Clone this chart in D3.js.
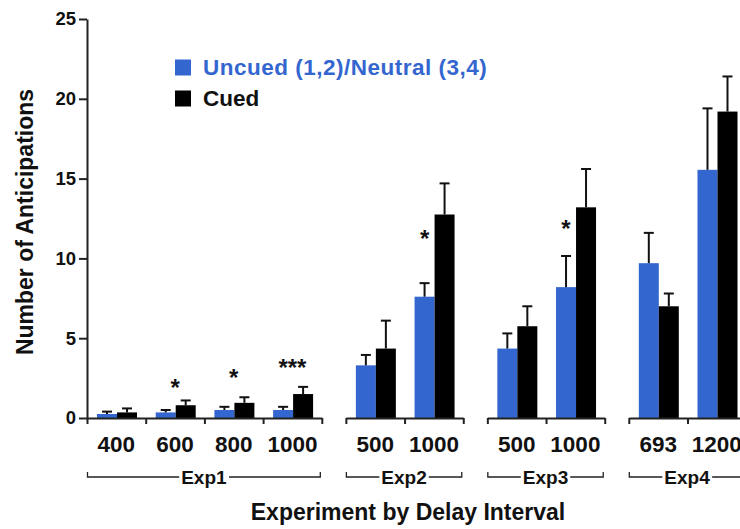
<!DOCTYPE html>
<html><head><meta charset="utf-8">
<script src="https://cdn.jsdelivr.net/npm/d3@7"></script>
<style>
html,body{margin:0;padding:0;background:#fff;overflow:hidden}
svg{display:block;font-family:"Liberation Sans",Arial,Helvetica,sans-serif;font-weight:bold}
</style></head><body>
<svg id="chart" width="740" height="529"></svg>
<script>
// ---- data ----
const groups = ["Exp1","Exp2","Exp3","Exp4"];
const categoryGroup = ["Exp1","Exp1","Exp1","Exp1","Exp2","Exp2","Exp3","Exp3","Exp4","Exp4"];
const categoryLabels = ["400","600","800","1000","500","1000","500","1000","693","1200"];
const uncuedMeans  = [0.25,0.35,0.5,0.5,3.3,7.6,4.35,8.2,9.7,15.55];
const uncuedErrors = [0.15,0.15,0.2,0.2,0.65,0.85,0.95,1.95,1.9,3.85];
const cuedMeans    = [0.35,0.8,0.95,1.5,4.35,12.75,5.75,13.2,7.0,19.2];
const cuedErrors   = [0.25,0.3,0.35,0.45,1.75,1.95,1.25,2.4,0.8,2.2];
const yTicks = [0,5,10,15,20,25];
const sigCategory = [1,2,3,5,7];
const sigLabel = ["*","*","***","*","*"];
const sigLevel = [2.27,2.9,3.5,11.57,12.2];
const sigAnchor = ["pair","pair","pair","uncued","uncued"];
const seriesNames = ["Uncued (1,2)/Neutral (3,4)","Cued"];
const seriesKeys = ["uncued","cued"];

// ---- style ----
const BLUE = "#3466cf";
const INK = "#111";
const svg = d3.select("#chart");

// slot layout: one slot per category, gap between experiment groups
const GAP = 0.41;
const slotStart = categoryGroup.map((g,i)=> i + groups.indexOf(g)*GAP);
const groupRange = groups.map(g=>{
  const idx = categoryGroup.map((c,i)=>c===g?i:-1).filter(i=>i>=0);
  return {g, s: slotStart[idx[0]], e: slotStart[idx[idx.length-1]]+1, n: idx.length};
});

const x = d3.scaleLinear().domain([0,1]).range([87, 87+58.7]);
const inner = d3.scaleBand().domain(seriesKeys).range([10,50]);
const y = d3.scaleLinear().domain([0,25]).range([418,19]);

const data = categoryLabels.map((lab,i)=>({
  i, lab,
  vals: [
    {k:"uncued", m: uncuedMeans[i], e: uncuedErrors[i]},
    {k:"cued", m: cuedMeans[i], e: cuedErrors[i]}
  ]
}));
const color = d3.scaleOrdinal().domain(seriesKeys).range([BLUE, "#000"]);

// bars
const cat = svg.append("g").selectAll("g").data(data).join("g")
  .attr("transform", d=>`translate(${x(slotStart[d.i])},0)`);
cat.selectAll("rect").data(d=>d.vals).join("rect")
  .attr("x", v=>inner(v.k)).attr("width", inner.bandwidth())
  .attr("y", v=>y(v.m)).attr("height", v=>y(0)-y(v.m))
  .attr("fill", v=>color(v.k));
// error bars
const eb = cat.selectAll("g.err").data(d=>d.vals).join("g").attr("class","err")
  .attr("stroke", INK).attr("stroke-width", 2);
eb.append("line")
  .attr("x1", v=>inner(v.k)+inner.bandwidth()/2).attr("x2", v=>inner(v.k)+inner.bandwidth()/2)
  .attr("y1", v=>y(v.m)).attr("y2", v=>y(v.m+v.e));
eb.append("line")
  .attr("x1", v=>inner(v.k)+inner.bandwidth()/2-5).attr("x2", v=>inner(v.k)+inner.bandwidth()/2+5)
  .attr("y1", v=>y(v.m+v.e)).attr("y2", v=>y(v.m+v.e));

// y axis
const yAxis = svg.append("g").attr("transform","translate(87,0)")
  .call(d3.axisLeft(y).tickValues(yTicks).tickSize(8).tickSizeOuter(0).tickPadding(3));
yAxis.selectAll("path,line").attr("stroke", "#222").attr("stroke-width", 2);
yAxis.selectAll("text").attr("font-size", 18.5).attr("fill", INK);
yAxis.attr("font-family", null);

// x axes per group
groupRange.forEach(gr=>{
  const sc = d3.scaleLinear().domain([gr.s, gr.e]).range([x(gr.s), x(gr.e)]);
  const ticks = d3.range(gr.n+1).map(k=>gr.s+k);
  const ax = svg.append("g").attr("transform",`translate(0,${y(0)})`)
    .call(d3.axisBottom(sc).tickValues(ticks).tickSize(6).tickSizeOuter(0).tickFormat(""));
  ax.selectAll("path,line").attr("stroke","#222").attr("stroke-width",2);
});

// category labels
svg.append("g").selectAll("text").data(data).join("text")
  .attr("x", d=>x(slotStart[d.i]+0.5)).attr("y", 452)
  .attr("text-anchor","middle").attr("font-size",22.5).attr("fill",INK)
  .text(d=>d.lab);

// group brackets
groupRange.forEach(gr=>{
  const x0 = x(gr.s)+0.5, x1 = x(gr.e)-1.5, by = 477;
  const cx = (x0+x1)/2;
  const t = svg.append("text").attr("x", cx).attr("y", 483.5)
    .attr("text-anchor","middle").attr("font-size",19).attr("fill",INK).text(gr.g);
  const bb = t.node().getBBox();
  const g = svg.append("g").attr("stroke","#222").attr("stroke-width",1.3).attr("fill","none");
  g.append("path").attr("d", `M${x0},${by-5}V${by}H${bb.x-2}`);
  g.append("path").attr("d", `M${bb.x+bb.width+2},${by}H${x1}V${by-5}`);
});

// significance markers
svg.append("g").selectAll("text").data(sigCategory).join("text")
  .attr("x", (c,k)=> sigAnchor[k]==="uncued"
      ? x(slotStart[c]) + inner("uncued") + inner.bandwidth()/2
      : x(slotStart[c]+0.5))
  .attr("y", (c,k)=> y(sigLevel[k]) + 14)
  .attr("text-anchor","middle").attr("font-size",24).attr("fill",INK)
  .text((c,k)=>sigLabel[k]);

// axis titles
svg.append("text").attr("transform","translate(33,222) rotate(-90)")
  .attr("text-anchor","middle").attr("font-size",23).attr("fill",INK)
  .text("Number of Anticipations");
svg.append("text").attr("x",408).attr("y",520)
  .attr("text-anchor","middle").attr("font-size",23).attr("fill",INK)
  .text("Experiment by Delay Interval");

// legend
const leg = svg.append("g").selectAll("g").data(seriesKeys).join("g")
  .attr("transform",(k,i)=>`translate(175,${59.5+i*31})`);
leg.append("rect").attr("width",16).attr("height",16).attr("fill",k=>color(k));
leg.append("text").attr("x",28).attr("y",15.5).attr("font-size",22.5)
  .attr("letter-spacing",(k,i)=>i===0?0.5:0)
  .attr("fill",k=>k==="uncued"?BLUE:INK)
  .text((k,i)=>seriesNames[i]);
</script>
</body></html>
